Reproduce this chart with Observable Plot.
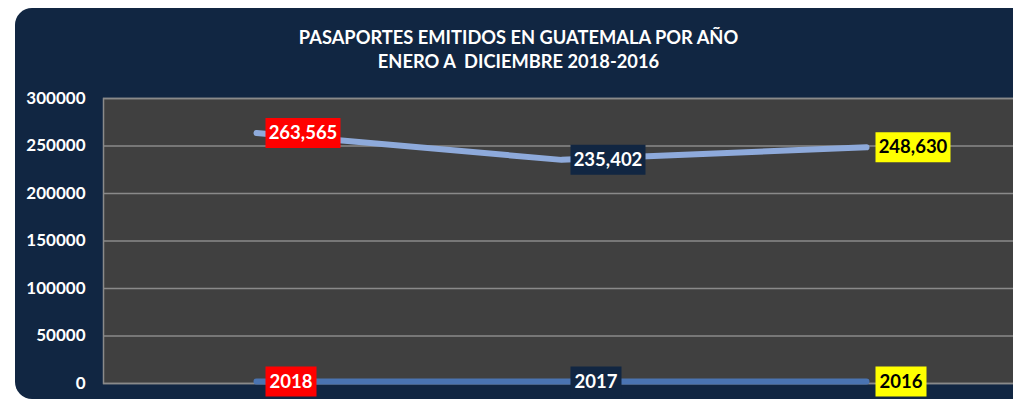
<!DOCTYPE html>
<html>
<head>
<meta charset="utf-8">
<script src="https://cdn.jsdelivr.net/npm/d3@7"></script>
<script src="https://cdn.jsdelivr.net/npm/@observablehq/plot@0.6"></script>
<style>
  html, body { margin: 0; padding: 0; background: #ffffff; width: 1013px; height: 400px; overflow: hidden; }
  #panel { position: absolute; left: 15px; top: 8px; width: 1100px; height: 391px; background: #112642; border-radius: 17px; }
  #title { position: absolute; left: 0; top: 0; width: 1013px; color: #ffffff; font-family: Lato, "Open Sans", sans-serif; font-weight: bold; font-size: 18.3px; line-height: 24px; }
  #title div { position: absolute; width: 1013px; left: 12px; text-align: center; white-space: pre; }
  #chart { position: absolute; left: 0; top: 0; }
</style>
</head>
<body>
<div id="panel"></div>
<div id="title">
  <div id="t1" style="top:25px">PASAPORTES EMITIDOS EN GUATEMALA POR AÑO</div>
  <div id="t2" style="top:49px">ENERO A  DICIEMBRE 2018-2016</div>
</div>
<div id="chart"></div>
<script>
const categories = ["2018", "2017", "2016"];
const pasaportes = [263565, 235402, 248630];
const anios = [2018, 2017, 2016];
const yTicks = [0, 50000, 100000, 150000, 200000, 250000, 300000];
const labelBg = ["#ff0000", "#112642", "#ffff00"];
const labelFg = ["#ffffff", "#ffffff", "#000000"];

const rowsA = categories.map((c, i) => ({cat: c, v: pasaportes[i], txt: d3.format(",")(pasaportes[i]), bg: labelBg[i], fg: labelFg[i]}));
const rowsB = categories.map((c, i) => ({cat: c, v: anios[i], txt: String(anios[i]), bg: labelBg[i], fg: labelFg[i]}));

const boxSymbol = (w) => ({draw(ctx) { ctx.rect(9, -15, w, 30); }});

const plot = Plot.plot({
  width: 1013,
  height: 400,
  marginLeft: 103,
  marginRight: -6,
  marginTop: 98,
  marginBottom: 17,
  style: {background: "transparent", fontFamily: "Lato, 'Open Sans', sans-serif"},
  x: {type: "point", domain: categories, padding: 0.5, axis: null, label: null},
  y: {domain: [0, 300000], ticks: yTicks, axis: null, label: null},
  color: {type: "identity"},
  marks: [
    Plot.frame({fill: "#404040", stroke: "#8a8a8a", strokeWidth: 1.5}),
    Plot.ruleY(yTicks, {stroke: "#8a8a8a", strokeWidth: 1.5}),
    Plot.axisY({ticks: yTicks, label: null, tickSize: 0, tickPadding: 18, tickFormat: d3.format("d"), fill: "#ffffff", fontSize: 17, fontWeight: "bold"}),
    Plot.line(rowsA, {x: "cat", y: "v", stroke: "#8eaadb", strokeWidth: 6, strokeLinecap: "round", strokeLinejoin: "round"}),
    Plot.line(rowsB, {x: "cat", y: "v", stroke: "#4a74b2", strokeWidth: 6, strokeLinecap: "round", strokeLinejoin: "round"}),
    Plot.dot(rowsA, {x: "cat", y: "v", symbol: boxSymbol(75), fill: "bg", stroke: null, r: 10}),
    Plot.dot(rowsB, {x: "cat", y: "v", symbol: boxSymbol(51), fill: "bg", stroke: null, r: 10}),
    Plot.text(rowsA, {x: "cat", y: "v", text: "txt", fill: "fg", dx: 9 + 37.5, fontSize: 18.5, fontWeight: "bold", textAnchor: "middle"}),
    Plot.text(rowsB, {x: "cat", y: "v", text: "txt", fill: "fg", dx: 9 + 25.5, fontSize: 18.5, fontWeight: "bold", textAnchor: "middle"})
  ]
});
document.getElementById("chart").appendChild(plot);
</script>
</body>
</html>
